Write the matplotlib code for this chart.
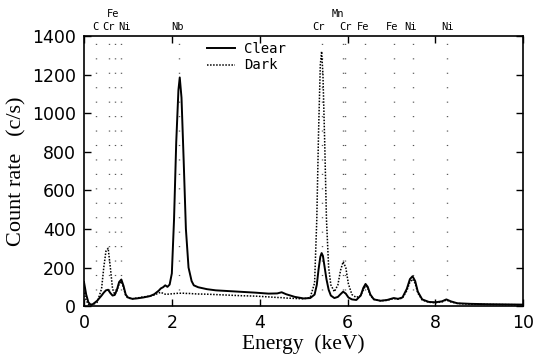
"""EDS spectra of clear vs dark regions, with element line markers."""

import matplotlib
matplotlib.use("Agg")
import matplotlib.pyplot as plt
import numpy as np

# spectrum (keV, c/s)
energy = [0.00, 0.05, 0.10, 0.15, 0.20, 0.30, 0.40, 0.45, 0.50, 0.55,
          0.60, 0.65, 0.70, 0.75, 0.80, 0.85, 0.90, 0.95, 1.00, 1.10,
          1.20, 1.35, 1.50, 1.60, 1.70, 1.75, 1.80, 1.85, 1.90, 1.95,
          2.00, 2.05, 2.10, 2.15, 2.18, 2.22, 2.27, 2.32, 2.38, 2.45,
          2.50, 2.60, 2.80, 3.00, 3.30, 3.60, 3.90, 4.20, 4.40, 4.50,
          4.60, 4.80, 5.00, 5.15, 5.25, 5.30, 5.34, 5.38, 5.41, 5.44,
          5.48, 5.52, 5.57, 5.62, 5.70, 5.78, 5.84, 5.90, 5.96, 6.02,
          6.10, 6.20, 6.30, 6.36, 6.41, 6.46, 6.52, 6.60, 6.75, 6.90,
          7.05, 7.15, 7.25, 7.35, 7.42, 7.48, 7.54, 7.60, 7.70, 7.85,
          8.00, 8.15, 8.25, 8.35, 8.50, 8.80, 9.20, 9.60, 10.0]

clear = [125, 60, 20, 8, 10, 28, 55, 70, 82, 85,
         68, 55, 58, 85, 125, 138, 105, 60, 45, 38,
         40, 45, 52, 62, 80, 92, 98, 108, 100, 112,
         170, 450, 850, 1120, 1185, 1080, 750, 400, 200, 130,
         108, 98, 88, 82, 78, 74, 70, 65, 66, 72,
         62, 48, 40, 42, 60, 110, 190, 255, 275, 260,
         200, 140, 85, 55, 42, 48, 62, 75, 65, 45,
         35, 32, 55, 95, 115, 100, 60, 35, 28, 32,
         42, 38, 45, 90, 140, 155, 130, 75, 35, 22,
         20, 25, 35, 25, 15, 12, 10, 9, 8]

dark = [70, 30, 10, 5, 8, 20, 90, 200, 285, 300,
        200, 90, 60, 80, 115, 128, 95, 55, 42, 38,
        42, 48, 52, 58, 68, 72, 66, 62, 62, 63,
        64, 65, 66, 67, 67, 67, 67, 66, 66, 65,
        64, 63, 62, 60, 57, 54, 52, 48, 45, 44,
        42, 40, 38, 45, 120, 450, 900, 1250, 1320, 1200,
        850, 450, 200, 110, 75, 110, 185, 230, 200, 115,
        60, 45, 55, 85, 105, 92, 55, 35, 28, 30,
        40, 36, 42, 80, 125, 140, 118, 68, 32, 20,
        18, 22, 32, 22, 14, 10, 9, 8, 7]

# element lines (keV)
line_energy = [0.277, 0.573, 0.705, 0.851, 2.166, 5.41, 5.90, 5.95,
               6.40, 7.06, 7.48, 8.26]

# labels above the frame: text, x in keV, row
label_text = ["C", "Cr", "Ni", "Fe", "Nb", "Cr", "Mn", "Cr", "Fe", "Fe", "Ni", "Ni"]
label_x = [0.26, 0.56, 0.93, 0.66, 2.14, 5.33, 5.77, 5.96, 6.36, 7.02, 7.43, 8.27]
label_row = [0, 0, 0, 1, 0, 0, 1, 0, 0, 0, 0, 0]

fig = plt.figure(figsize=(5.35, 3.56), dpi=100)
ax = fig.add_axes([0.157, 0.140, 0.821, 0.759])

ax.vlines(line_energy, 85, 1370, colors="#555555", linewidth=1.0,
          linestyles=[(0, (0.8, 9.6))])

ax.plot(energy, clear, color="black", linewidth=1.4, label="Clear")
ax.plot(energy, dark, color="black", linewidth=1.1, linestyle=(0, (1, 1)), label="Dark")

ax.set_xlim(0, 10)
ax.set_ylim(0, 1400)
ax.set_xticks(np.arange(0, 11, 2))
ax.set_yticks(np.arange(0, 1401, 200))
ax.tick_params(direction="in", top=True, right=True, length=5, width=1,
               labelsize=12.5, pad=6)
for lab in ax.get_xticklabels() + ax.get_yticklabels():
    lab.set_family("DejaVu Sans")
for sp in ax.spines.values():
    sp.set_linewidth(1.2)

ax.set_xlabel("Energy  (keV)", family="Liberation Serif", fontsize=15.5, labelpad=1)
ax.set_ylabel("Count rate   (c/s)", family="Liberation Serif", fontsize=16, labelpad=4)

for txt, x, row in zip(label_text, label_x, label_row):
    ax.annotate(txt, xy=(x, 1400), xytext=(0, 3 + 9 * row), textcoords="offset points",
                ha="center", va="bottom", family="DejaVu Sans Mono", fontsize=7.5)

leg = ax.legend(loc="upper center", bbox_to_anchor=(0.37, 1.025), frameon=False,
                prop={"family": "DejaVu Sans Mono", "size": 10},
                handlelength=2.0, handletextpad=0.7, labelspacing=0.2)

fig.savefig("out.png", dpi=100)
